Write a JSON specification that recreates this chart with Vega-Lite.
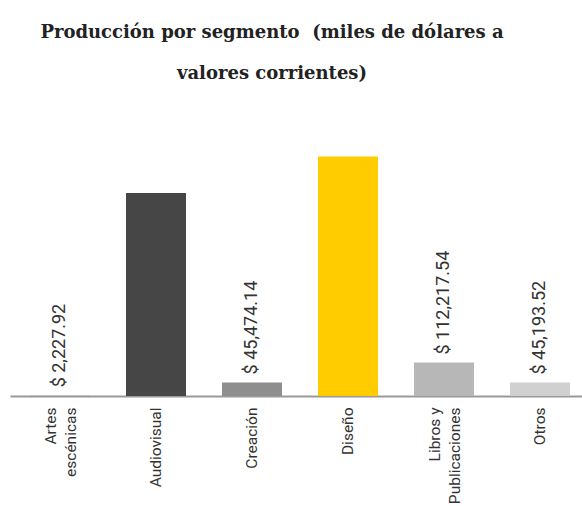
{
  "$schema": "https://vega.github.io/schema/vega-lite/v6.json",
  "width": 572,
  "height": 276,
  "autosize": {"type": "none"},
  "padding": {"left": 10, "top": 120, "right": 0, "bottom": 110},
  "background": "#ffffff",
  "title": {
    "text": ["Producción por segmento\u00a0 (miles de dólares a", "valores corrientes)"],
    "font": "DejaVu Serif",
    "fontSize": 18,
    "fontWeight": "bold",
    "color": "#222222",
    "lineHeight": 41,
    "anchor": "middle",
    "dx": -24,
    "offset": 37
  },
  "data": {
    "values": [
      {"segmento": "Artes escénicas", "valor": 2227.92, "etiqueta": "$ 2,227.92", "mostrar": true},
      {"segmento": "Audiovisual", "valor": 680000, "etiqueta": "", "mostrar": false},
      {"segmento": "Creación", "valor": 45474.14, "etiqueta": "$ 45,474.14", "mostrar": true},
      {"segmento": "Diseño", "valor": 802000, "etiqueta": "", "mostrar": false},
      {"segmento": "Libros y Publicaciones", "valor": 112217.54, "etiqueta": "$ 112,217.54", "mostrar": true},
      {"segmento": "Otros", "valor": 45193.52, "etiqueta": "$ 45,193.52", "mostrar": true}
    ]
  },
  "encoding": {
    "x": {
      "field": "segmento",
      "type": "nominal",
      "sort": null,
      "scale": {"paddingInner": 0.375, "paddingOuter": 0.1667, "align": 0.625},
      "axis": {
        "title": null,
        "domainColor": "#999999",
        "domainWidth": 2,
        "ticks": false,
        "labelAngle": -90,
        "labelAlign": "right",
        "labelBaseline": "middle",
        "labelFont": "Roboto",
        "labelFontSize": 15.5,
        "labelColor": "#333333",
        "labelPadding": 11,
        "labelLineHeight": 20,
        "labelLimit": 0,
        "labelOffset": {"condition": {"test": "datum.value == 'Artes escénicas' || datum.value == 'Libros y Publicaciones'", "value": -9}, "value": 0},
        "labelExpr": "datum.value == 'Artes escénicas' ? ['Artes', 'escénicas'] : datum.value == 'Libros y Publicaciones' ? ['Libros y', 'Publicaciones'] : datum.value"
      }
    },
    "y": {
      "field": "valor",
      "type": "quantitative",
      "scale": {"domain": [0, 924600]},
      "axis": null
    }
  },
  "layer": [
    {
      "mark": {"type": "bar"},
      "encoding": {
        "color": {
          "field": "segmento",
          "type": "nominal",
          "legend": null,
          "scale": {
            "domain": ["Artes escénicas", "Audiovisual", "Creación", "Diseño", "Libros y Publicaciones", "Otros"],
            "range": ["#bbbbbb", "#464646", "#8e8e8e", "#ffcc00", "#b7b7b7", "#d0d0d0"]
          }
        }
      }
    },
    {
      "transform": [{"filter": "datum.mostrar"}],
      "mark": {"type": "text", "angle": -90, "align": "left", "baseline": "middle", "dx": 8, "font": "Roboto", "fontSize": 18, "color": "#333333"},
      "encoding": {
        "text": {"field": "etiqueta", "type": "nominal"}
      }
    }
  ],
  "config": {
    "view": {"stroke": null}
  }
}
